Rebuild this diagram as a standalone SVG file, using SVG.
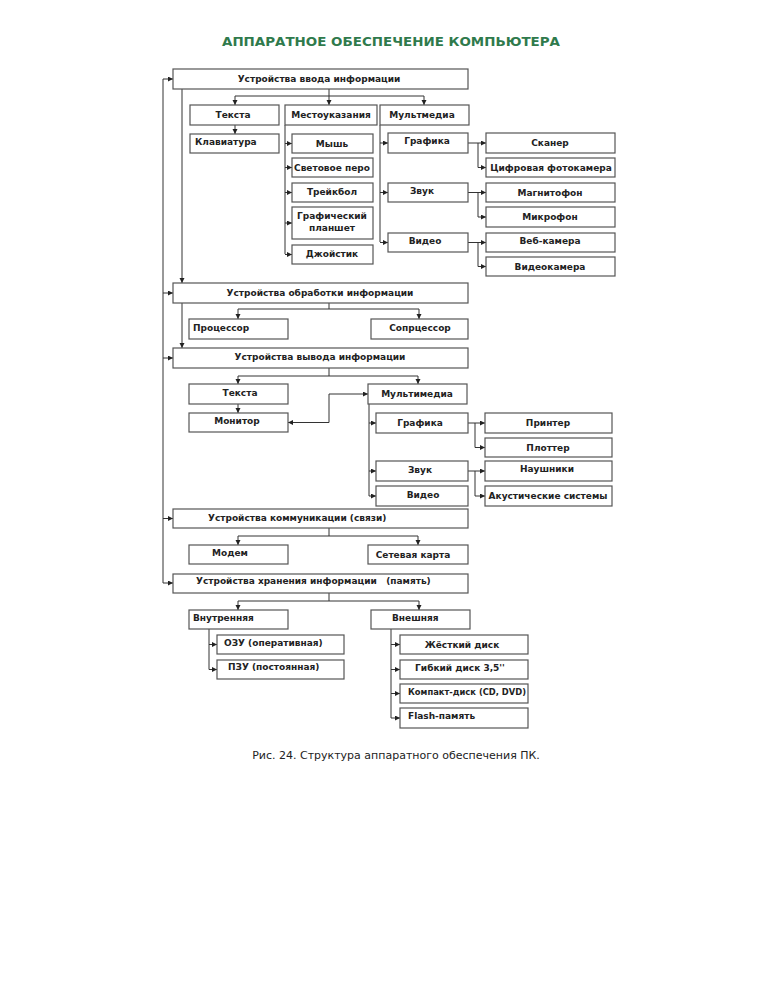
<svg xmlns="http://www.w3.org/2000/svg" width="768" height="994" viewBox="0 0 768 994">
<defs>
<marker id="ar" markerUnits="userSpaceOnUse" markerWidth="6" markerHeight="6" refX="5" refY="2.5" orient="auto-start-reverse"><path d="M0,0 L5,2.5 L0,5 z" fill="#222"/></marker>
<style>
.b{fill:#fff;stroke:#555;stroke-width:1.2}
.t{font-family:"DejaVu Sans","Verdana",sans-serif;font-weight:bold;font-size:9px;fill:#222}
.c{text-anchor:middle}
.l{fill:none;stroke:#333;stroke-width:1}
.a{fill:none;stroke:#333;stroke-width:1;marker-end:url(#ar)}
</style>
</defs>
<rect width="768" height="994" fill="#fff"/>
<text x="391" y="46" text-anchor="middle" textLength="338" lengthAdjust="spacingAndGlyphs" style="font-family:'DejaVu Sans',Verdana,sans-serif;font-weight:bold;font-size:13px;fill:#2f7a4c">АППАРАТНОЕ ОБЕСПЕЧЕНИЕ КОМПЬЮТЕРА</text>

<g id="connectors">
<path class="l" d="M163,79 V583"/>
<path class="a" d="M163,79 H173"/>
<path class="a" d="M163,293 H173"/>
<path class="a" d="M163,358 H173"/>
<path class="a" d="M163,518.5 H173"/>
<path class="a" d="M163,583 H173"/>
<path class="a" d="M182,89 V283"/>
<path class="a" d="M182,303 V348"/>
<path class="l" d="M329,89 V96 M235,96 H424"/>
<path class="a" d="M235,96 V105"/>
<path class="a" d="M329,96 V105"/>
<path class="a" d="M424,96 V105"/>
<path class="a" d="M235,125 V134"/>
<path class="l" d="M285,125 V254"/>
<path class="a" d="M285,143.5 H292"/>
<path class="a" d="M285,167.5 H292"/>
<path class="a" d="M285,192.5 H292"/>
<path class="a" d="M285,223 H292"/>
<path class="a" d="M285,254.5 H292"/>
<path class="l" d="M380,125 V242"/>
<path class="a" d="M380,143 H388"/>
<path class="a" d="M380,192.5 H388"/>
<path class="a" d="M380,242.5 H388"/>
<path class="a" d="M468,143 H486"/>
<path class="a" d="M478,143 V167.5 H486"/>
<path class="a" d="M468,192.5 H486"/>
<path class="a" d="M478,192.5 V217 H486"/>
<path class="a" d="M468,242.5 H486"/>
<path class="a" d="M478,242.5 V266.5 H486"/>
<path class="l" d="M329,303 V309 M238,309 H419"/>
<path class="a" d="M238,309 V319"/>
<path class="a" d="M419,309 V319"/>
<path class="l" d="M329,368 V376 M238,376 H418"/>
<path class="a" d="M238,376 V384"/>
<path class="a" d="M418,376 V384"/>
<path class="a" d="M238,404 V413"/>
<path class="l" d="M288,422.5 H329 V394 H368" style="marker-start:url(#ar);marker-end:url(#ar)"/>
<path class="l" d="M369,404 V496"/>
<path class="a" d="M369,423 H376"/>
<path class="a" d="M369,471 H376"/>
<path class="a" d="M369,496 H376"/>
<path class="a" d="M468,423 H485"/>
<path class="a" d="M475,423 V447.5 H485"/>
<path class="a" d="M468,471 H485"/>
<path class="a" d="M475,471 V496 H485"/>
<path class="l" d="M329,528 V536 M238,536 H418"/>
<path class="a" d="M238,536 V545"/>
<path class="a" d="M418,536 V545"/>
<path class="l" d="M329,593 V601 M238,601 H419"/>
<path class="a" d="M238,601 V610"/>
<path class="a" d="M419,601 V610"/>
<path class="l" d="M209,629 V669.5"/>
<path class="a" d="M209,644.5 H217"/>
<path class="a" d="M209,669.5 H217"/>
<path class="l" d="M391,629 V718"/>
<path class="a" d="M391,644.5 H400"/>
<path class="a" d="M391,669.5 H400"/>
<path class="a" d="M391,693.5 H400"/>
<path class="a" d="M391,718 H400"/>
</g>

<g id="n_input"><rect class="b" x="173" y="69" width="295" height="20"/><text class="t c" x="319" y="82">Устройства ввода информации</text></g>
<g id="n_in_text"><rect class="b" x="190" y="105" width="89" height="20"/><text class="t c" x="233" y="118">Текста</text></g>
<g id="n_in_point"><rect class="b" x="285" y="105" width="92" height="20"/><text class="t c" x="331" y="118">Местоуказания</text></g>
<g id="n_in_mm"><rect class="b" x="380" y="105" width="89" height="20"/><text class="t c" x="422" y="118">Мультмедиа</text></g>
<g id="n_keyb"><rect class="b" x="190" y="134" width="89" height="19"/><text class="t" x="195" y="145">Клавиатура</text></g>
<g id="n_mouse"><rect class="b" x="292" y="134" width="81" height="19"/><text class="t c" x="332" y="147">Мышь</text></g>
<g id="n_pen"><rect class="b" x="292" y="158" width="81" height="19"/><text class="t c" x="332" y="171">Световое перо</text></g>
<g id="n_trackball"><rect class="b" x="292" y="183" width="81" height="19"/><text class="t c" x="332" y="195">Трейкбол</text></g>
<g id="n_tablet"><rect class="b" x="292" y="207" width="81" height="32"/><text class="t c" x="332" y="219">Графический</text><text class="t c" x="332" y="231">планшет</text></g>
<g id="n_joystick"><rect class="b" x="292" y="245" width="81" height="19"/><text class="t c" x="332" y="257">Джойстик</text></g>
<g id="n_graph_in"><rect class="b" x="388" y="133" width="80" height="20"/><text class="t c" x="427" y="144">Графика</text></g>
<g id="n_sound_in"><rect class="b" x="388" y="183" width="80" height="19"/><text class="t c" x="422" y="194">Звук</text></g>
<g id="n_video_in"><rect class="b" x="388" y="233" width="80" height="19"/><text class="t c" x="425" y="244">Видео</text></g>
<g id="n_scanner"><rect class="b" x="486" y="133" width="129" height="20"/><text class="t c" x="550" y="146">Сканер</text></g>
<g id="n_camera"><rect class="b" x="486" y="158" width="129" height="19"/><text class="t c" x="551" y="171">Цифровая фотокамера</text></g>
<g id="n_tape"><rect class="b" x="486" y="183" width="129" height="19"/><text class="t c" x="550" y="196">Магнитофон</text></g>
<g id="n_mic"><rect class="b" x="486" y="207" width="129" height="20"/><text class="t c" x="550" y="220">Микрофон</text></g>
<g id="n_web"><rect class="b" x="486" y="233" width="129" height="19"/><text class="t c" x="550" y="244">Веб-камера</text></g>
<g id="n_vcam"><rect class="b" x="486" y="257" width="129" height="19"/><text class="t c" x="550" y="270">Видеокамера</text></g>

<g id="n_proc"><rect class="b" x="173" y="283" width="295" height="20"/><text class="t c" x="320" y="296">Устройства обработки информации</text></g>
<g id="n_cpu"><rect class="b" x="189" y="319" width="99" height="20"/><text class="t" x="193" y="331">Процессор</text></g>
<g id="n_cop"><rect class="b" x="371" y="319" width="97" height="20"/><text class="t c" x="420" y="331">Сопрцессор</text></g>

<g id="n_output"><rect class="b" x="173" y="348" width="295" height="20"/><text class="t c" x="320" y="360">Устройства вывода информации</text></g>
<g id="n_out_text"><rect class="b" x="189" y="384" width="99" height="20"/><text class="t c" x="240" y="396">Текста</text></g>
<g id="n_monitor"><rect class="b" x="189" y="413" width="99" height="19"/><text class="t c" x="237" y="424">Монитор</text></g>
<g id="n_out_mm"><rect class="b" x="368" y="384" width="99" height="20"/><text class="t c" x="417" y="397">Мультимедиа</text></g>
<g id="n_graph_out"><rect class="b" x="376" y="413" width="92" height="20"/><text class="t c" x="420" y="426">Графика</text></g>
<g id="n_sound_out"><rect class="b" x="376" y="461" width="92" height="20"/><text class="t c" x="420" y="473">Звук</text></g>
<g id="n_video_out"><rect class="b" x="376" y="486" width="92" height="20"/><text class="t c" x="423" y="498">Видео</text></g>
<g id="n_printer"><rect class="b" x="485" y="413" width="127" height="20"/><text class="t c" x="548" y="426">Принтер</text></g>
<g id="n_plotter"><rect class="b" x="485" y="438" width="127" height="19"/><text class="t c" x="548" y="451">Плоттер</text></g>
<g id="n_phones"><rect class="b" x="485" y="461" width="127" height="20"/><text class="t c" x="547" y="472">Наушники</text></g>
<g id="n_speakers"><rect class="b" x="485" y="486" width="127" height="20"/><text class="t c" x="548" y="499">Акустические системы</text></g>

<g id="n_comm"><rect class="b" x="173" y="509" width="295" height="19"/><text class="t" x="208" y="521">Устройства коммуникации (связи)</text></g>
<g id="n_modem"><rect class="b" x="189" y="545" width="99" height="19"/><text class="t c" x="230" y="556">Модем</text></g>
<g id="n_netcard"><rect class="b" x="368" y="545" width="100" height="19"/><text class="t c" x="413" y="558">Сетевая карта</text></g>

<g id="n_storage"><rect class="b" x="173" y="574" width="295" height="19"/><text class="t" x="196" y="584" xml:space="preserve">Устройства хранения информации   (память)</text></g>
<g id="n_internal"><rect class="b" x="189" y="610" width="99" height="19"/><text class="t" x="193" y="621">Внутренняя</text></g>
<g id="n_external"><rect class="b" x="371" y="610" width="99" height="19"/><text class="t" x="392" y="621">Внешняя</text></g>
<g id="n_ram"><rect class="b" x="217" y="635" width="127" height="19"/><text class="t" x="224" y="646">ОЗУ (оперативная)</text></g>
<g id="n_rom"><rect class="b" x="217" y="660" width="127" height="19"/><text class="t" x="228" y="670">ПЗУ (постоянная)</text></g>
<g id="n_hdd"><rect class="b" x="400" y="635" width="128" height="19"/><text class="t c" x="462" y="648">Жёсткий диск</text></g>
<g id="n_fdd"><rect class="b" x="400" y="660" width="128" height="19"/><text class="t c" x="460" y="671">Гибкий диск 3,5''</text></g>
<g id="n_cd"><rect class="b" x="400" y="684" width="128" height="19"/><text class="t" x="408" y="695" textLength="118" lengthAdjust="spacingAndGlyphs">Компакт-диск (CD, DVD)</text></g>
<g id="n_flash"><rect class="b" x="400" y="708" width="128" height="20"/><text class="t" x="408" y="719">Flash-память</text></g>

<text x="396" y="759" text-anchor="middle" style="font-family:'DejaVu Sans',Verdana,sans-serif;font-size:11px;fill:#222">Рис. 24. Структура аппаратного обеспечения ПК.</text>
</svg>
